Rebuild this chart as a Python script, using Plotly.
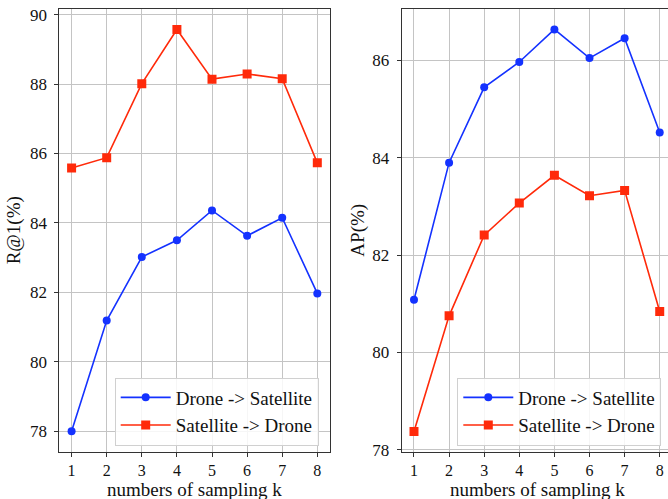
import plotly.graph_objects as go

k_values = [1, 2, 3, 4, 5, 6, 7, 8]
r1_drone_to_sat = [78.00, 81.19, 83.02, 83.50, 84.36, 83.63, 84.15, 81.97]
r1_sat_to_drone = [85.58, 85.88, 88.01, 89.57, 88.14, 88.29, 88.15, 85.73]
ap_drone_to_sat = [81.08, 83.90, 85.45, 85.97, 86.64, 86.05, 86.46, 84.52]
ap_sat_to_drone = [78.37, 80.75, 82.41, 83.07, 83.64, 83.22, 83.33, 80.84]
series_names = ["Drone -> Satellite", "Satellite -> Drone"]
x_title = "numbers of sampling k"

BLUE = "#1432ff"
RED = "#ff2a0a"
FONT = "Liberation Serif"
W, H = 668, 499

fig = go.Figure()

def add(x, y, name, color, symbol, xa, ya, legend):
    fig.add_trace(go.Scatter(
        x=x, y=y, name=name, mode="lines+markers",
        line=dict(color=color, width=1.6),
        marker=dict(color=color, symbol=symbol, size=9 if symbol == "square" else 8),
        xaxis=xa, yaxis=ya, legend=legend,
    ))

add(k_values, r1_drone_to_sat, series_names[0], BLUE, "circle", "x", "y", "legend")
add(k_values, r1_sat_to_drone, series_names[1], RED, "square", "x", "y", "legend")
add(k_values, ap_drone_to_sat, series_names[0], BLUE, "circle", "x2", "y2", "legend2")
add(k_values, ap_sat_to_drone, series_names[1], RED, "square", "x2", "y2", "legend2")

y_dom = [(H - 451.5) / H, (H - 9) / H]
x1_dom = [59.3 / W, 329.6 / W]
x2_dom = [401.7 / W, 1.0]

axis_common = dict(
    showgrid=True, gridcolor="#c4c4c4", gridwidth=1,
    showline=True, linecolor="#333333", linewidth=1,
    ticks="outside", ticklen=4, tickcolor="#333333",
    zeroline=False, automargin=False,
)
ytickfont = dict(family=FONT, size=17, color="#111111")
xtickfont = dict(family=FONT, size=16, color="#111111")

xticks = dict(tickmode="array", tickvals=k_values, ticktext=[str(v) for v in k_values],
              ticklabelstandoff=0, tickfont=xtickfont)
title_font = dict(family=FONT, size=19, color="#111111")
legend_common = dict(
    xanchor="left", yanchor="bottom",
    bgcolor="rgba(255,255,255,0.85)", bordercolor="#d0d0d0", borderwidth=1,
    font=dict(family=FONT, size=19, color="#111111"), itemwidth=50,
    tracegroupgap=0,
)

fig.update_layout(
    width=W, height=H,
    margin=dict(l=0, r=0, t=0, b=0),
    paper_bgcolor="white", plot_bgcolor="white",
    font=dict(family=FONT, color="#111111"),
    xaxis=dict(domain=x1_dom, range=[0.65, 8.35], anchor="y", mirror=True,
               **xticks, **axis_common),
    yaxis=dict(domain=y_dom, range=[77.42, 90.16], anchor="x", mirror=True,
               tickvals=[78, 80, 82, 84, 86, 88, 90], ticklabelstandoff=4, tickfont=ytickfont,
               title=dict(text="R@1(%)", font=title_font, standoff=4),
               **axis_common),
    xaxis2=dict(domain=x2_dom, range=[0.65, 8.236], anchor="y2", mirror=True,
                **xticks, **axis_common),
    yaxis2=dict(domain=y_dom, range=[77.96, 87.06], anchor="x2", mirror=False,
                tickvals=[78, 80, 82, 84, 86], ticklabelstandoff=4, tickfont=ytickfont,
                title=dict(text="AP(%)", font=title_font, standoff=2),
                **axis_common),
    legend=dict(x=114.7 / W, y=(H - 445.5) / H, **legend_common),
    legend2=dict(x=457.3 / W, y=(H - 445.5) / H, **legend_common),
    showlegend=True,
    annotations=[
        dict(text=x_title, xref="paper", yref="paper", x=(x1_dom[0] + x1_dom[1]) / 2, y=0,
             xanchor="center", yanchor="bottom", showarrow=False, font=title_font,
             borderpad=0, yshift=-2),
        dict(text=x_title, xref="paper", yref="paper", x=(401.7 + 672.3) / 2 / W, y=0,
             xanchor="center", yanchor="bottom", showarrow=False, font=title_font,
             borderpad=0, yshift=-2),
    ],
)

fig.write_html("out.html")
